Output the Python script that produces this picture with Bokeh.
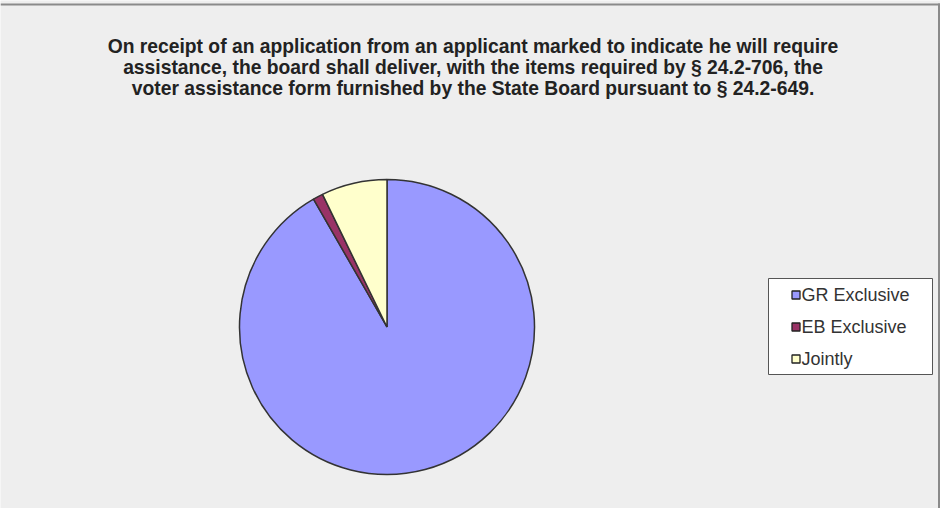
import numpy as np
from bokeh.plotting import figure
from bokeh.models import Range1d, ColumnDataSource
from bokeh.core.properties import value
from bokeh.embed import file_html
from bokeh.resources import INLINE

# ---- data ----
categories = ["GR Exclusive", "EB Exclusive", "Jointly"]
shares = [91.7, 1.1, 7.2]
colors = ["#9999ff", "#993366", "#ffffcc"]
title_lines = [
    "On receipt of an application from an applicant marked to indicate he will require",
    "assistance, the board shall deliver, with the items required by \u00a7 24.2-706, the",
    "voter assistance form furnished by the State Board pursuant to \u00a7 24.2-649.",
]

W, H = 940, 508
# data coords: x = pixel x, y = 516 - pixel y
p = figure(width=W, height=H, x_range=Range1d(0, W), y_range=Range1d(516 - H, 516),
           output_backend="svg", toolbar_location=None, min_border=0)
p.axis.visible = False
p.grid.visible = False
p.outline_line_color = None
p.background_fill_color = "#eeeeee"
p.border_fill_color = "#eeeeee"

# frame lines (top and right)
p.segment(x0=[0, 938.5], y0=[516 - 4, 516 - 3], x1=[939.5, 938.5], y1=[516 - 4, 0],
          line_color="#8a8a8a", line_width=2)

# pie
vals = np.array(shares, dtype=float)
frac = vals / vals.sum()
ends = np.cumsum(frac) * 2 * np.pi
starts = np.concatenate([[0.0], ends[:-1]])
cx, cy, r = 386.5, 516 - 326.5, 147.5
src = ColumnDataSource(dict(
    start=np.pi / 2 - starts,
    end=np.pi / 2 - ends,
    color=colors,
    label=categories,
))
p.wedge(x=cx, y=cy, radius=r, start_angle="start", end_angle="end", direction="clock",
        fill_color="color", line_color="#333333", line_width=1.5, source=src)

# title
ty = [516 - 46, 516 - 67, 516 - 88]
p.text(x=[472.5] * 3, y=ty, text=title_lines, text_align="center", text_baseline="alphabetic",
       text_font=value("Liberation Sans"), text_font_size="19.3px", text_font_style="bold",
       text_color="#222222")

# legend box
p.quad(left=[768], right=[932], top=[516 - 278], bottom=[516 - 374],
       fill_color="white", line_color="#555555", line_width=1)
ly = [516 - 294.5, 516 - 326.5, 516 - 358.5]
p.scatter(x=[795.5] * 3, y=ly, marker="square", size=8, fill_color=colors,
          line_color="#222222", line_width=1.3)
p.text(x=[801] * 3, y=ly, text=categories, text_align="left", text_baseline="middle",
       text_font=value("Liberation Sans"), text_font_size="18px", text_color="#333333")

open("out.html", "w").write(file_html(p, INLINE))
